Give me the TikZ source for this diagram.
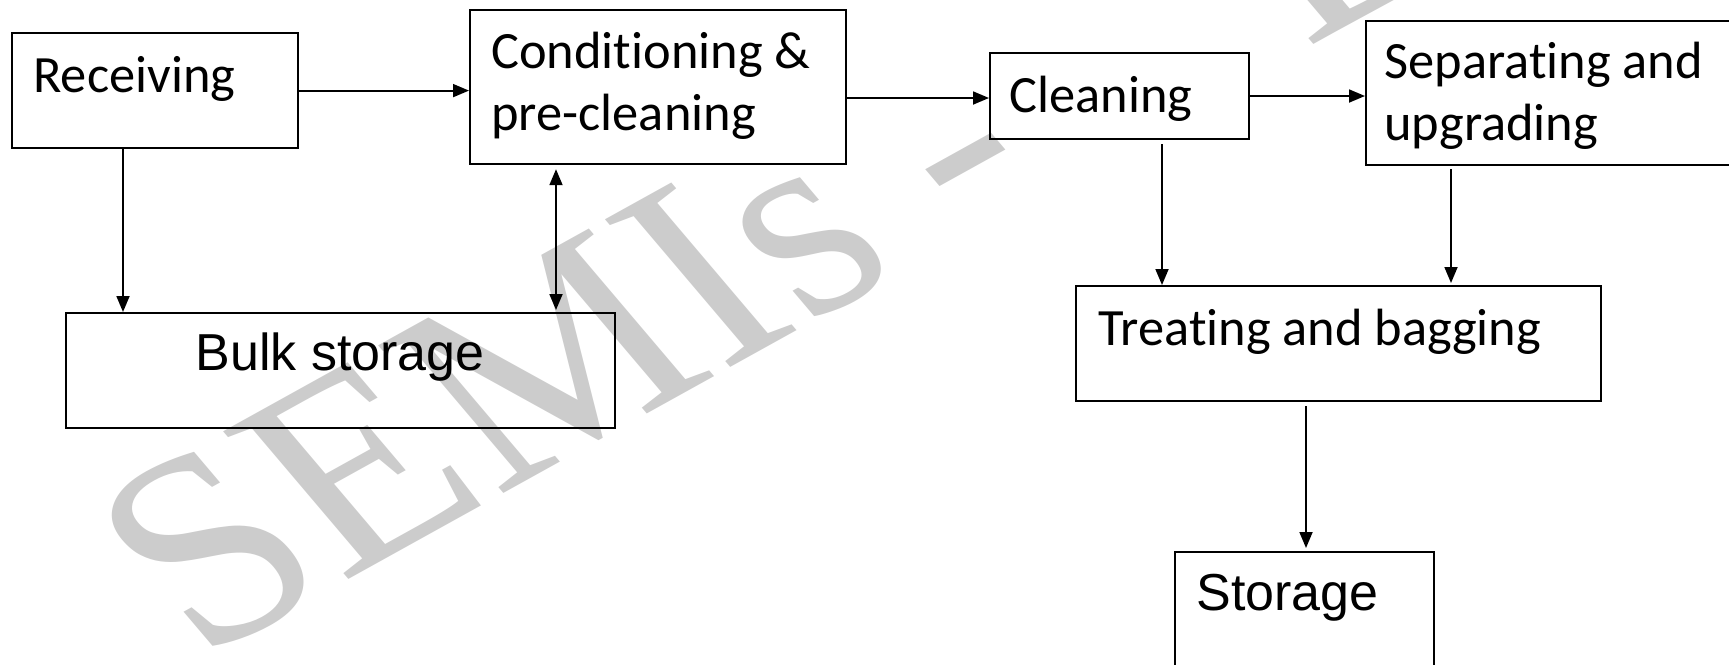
\documentclass[tikz,border=0pt]{standalone}
\usepackage{fontspec}
\setmainfont{Carlito}[Ligatures=NoCommon]
\newfontfamily\arialf{Liberation Sans}
\newfontfamily\timesf{Liberation Serif}
\usetikzlibrary{arrows.meta}
\definecolor{wmgray}{RGB}{204,204,204}
\tikzset{
  box/.style={draw=black, line width=1.1pt, rectangle, inner sep=0pt, anchor=north west},
  cal/.style={font=\fontsize{26.2}{31}\selectfont, inner sep=0pt, align=left},
  ari/.style={font=\arialf\fontsize{26}{30}\selectfont, inner sep=0pt},
  arr/.style={line width=0.9pt, -{Triangle[length=8pt,width=6.5pt]}},
  darr/.style={line width=0.9pt, {Triangle[length=8pt,width=6.5pt]}-{Triangle[length=8pt,width=6.5pt]}},
  wm/.style={font=\timesf\fontsize{145}{145}\selectfont, text=wmgray, inner sep=0pt}
}
\begin{document}
\begin{tikzpicture}[x=0.5pt, y=-0.5pt]
\path[use as bounding box] (0,0) rectangle (1729,664);
\clip (0,0) rectangle (1729,664);
% watermark
\node[wm, rotate=29, xslant=-0.2, anchor=base west] (wmark) at (200,662) {SEMIs -\hspace{1.0em}Do};
% boxes
\node[box, minimum width=143pt, minimum height=57.5pt] (rec) at (11,32) {};
\node[box, minimum width=188pt, minimum height=77pt] (cond) at (469,9) {};
\node[box, minimum width=129.5pt, minimum height=43pt] (clean) at (989,52) {};
\node[box, minimum width=190pt, minimum height=72pt] (sep) at (1365,20) {};
\node[box, minimum width=274.5pt, minimum height=57.5pt] (bulk) at (65,312) {};
\node[box, minimum width=262.5pt, minimum height=57.5pt] (treat) at (1075,285) {};
\node[box, minimum width=129.5pt, minimum height=80pt] (stor) at (1174,551) {};
% texts
\node[cal, anchor=base west] (trec) at (33,92) {Receiving};
\node[cal, anchor=base west] (tcond) at (491,130) {Conditioning \&\\pre-cleaning};
\node[cal, anchor=base west] (tclean) at (1009,112) {Cleaning};
\node[cal, anchor=base west] (tsep) at (1384,140) {Separating and\\upgrading};
\node[ari, anchor=base] (tbulk) at (340,370) {Bulk storage};
\node[cal, anchor=base west] (ttreat) at (1098,345) {Treating and bagging};
\node[ari, anchor=base west] (tstor) at (1196,610) {Storage};
% helper positions
\coordinate (xa) at (123,0);
\coordinate (xb) at (556,0);
\coordinate (xc) at (1162,0);
\coordinate (xd) at (1451,0);
\coordinate (xe) at (1306,0);
\coordinate (ya) at (0,98);
\coordinate (yb) at (0,96);
% connectors
\draw[arr] (rec.east) -- (cond.west |- rec.east);
\draw[arr] (cond.east |- ya) -- (clean.west |- ya);
\draw[arr] (clean.east |- yb) -- (sep.west |- yb);
\draw[arr] (rec.south -| xa) -- (bulk.north -| xa);
\draw[darr, shorten <=2pt, shorten >=1pt] (cond.south -| xb) -- (bulk.north -| xb);
\draw[arr, shorten <=2pt] (clean.south -| xc) -- (treat.north -| xc);
\draw[arr, shorten <=1.5pt, shorten >=1pt] (sep.south -| xd) -- (treat.north -| xd);
\draw[arr, shorten <=2pt, shorten >=1.5pt] (treat.south -| xe) -- (stor.north -| xe);
\end{tikzpicture}
\end{document}
